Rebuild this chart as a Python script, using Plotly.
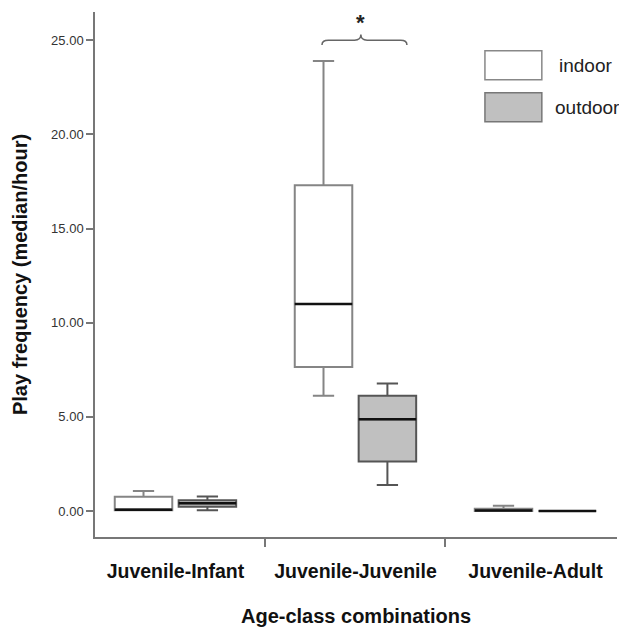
import plotly.graph_objects as go

categories = ["Juvenile-Infant", "Juvenile-Juvenile", "Juvenile-Adult"]

indoor_min = [0.05, 6.12, 0.0]
indoor_q1 = [0.05, 7.65, 0.0]
indoor_median = [0.07, 11.0, 0.03]
indoor_q3 = [0.76, 17.3, 0.12]
indoor_max = [1.07, 23.9, 0.28]

outdoor_min = [0.04, 1.39, 0.0]
outdoor_q1 = [0.23, 2.63, 0.0]
outdoor_median = [0.41, 4.88, 0.0]
outdoor_q3 = [0.57, 6.12, 0.0]
outdoor_max = [0.78, 6.77, 0.0]

y_ticks = [0, 5, 10, 15, 20, 25]
y_tick_labels = ["0.00", "5.00", "10.00", "15.00", "20.00", "25.00"]

FONT = "Liberation Sans, Arial, sans-serif"
BOXGAP = 0.29
GROUPGAP = 0.1
xpos = list(range(len(categories)))

fig = go.Figure()
fig.add_trace(go.Box(
    name="indoor", x=xpos, q1=indoor_q1, median=indoor_median, q3=indoor_q3,
    lowerfence=indoor_min, upperfence=indoor_max, offsetgroup="a",
    fillcolor="white", line=dict(color="#858585", width=2), whiskerwidth=0.37,
    boxpoints=False, showlegend=False, hoverinfo="skip"))
fig.add_trace(go.Box(
    name="outdoor", x=xpos, q1=outdoor_q1, median=outdoor_median, q3=outdoor_q3,
    lowerfence=outdoor_min, upperfence=outdoor_max, offsetgroup="b",
    fillcolor="#c0c0c0", line=dict(color="#555555", width=2), whiskerwidth=0.37,
    boxpoints=False, showlegend=False, hoverinfo="skip"))

# black median lines, derived from data and box geometry
slot = (1 - BOXGAP) / 2
bw = slot * (1 - GROUPGAP)
for sign, med in ((-1, indoor_median), (1, outdoor_median)):
    xs, ys = [], []
    for i, m in zip(xpos, med):
        c = i + sign * slot / 2
        xs += [c - bw / 2, c + bw / 2, None]
        ys += [m, m, None]
    fig.add_trace(go.Scatter(x=xs, y=ys, mode="lines", line=dict(color="#111111", width=2.5),
                             showlegend=False, hoverinfo="skip"))

# significance brace over Juvenile-Juvenile
x0, x1, xc = 0.814, 1.286, 1.03
yl, yf, yt = 24.75, 25.0, 25.3
d = 0.035
path = (f"M {x0},{yl} Q {x0},{yf} {x0+d},{yf} L {xc-d},{yf} Q {xc},{yf} {xc},{yt} "
        f"Q {xc},{yf} {xc+d},{yf} L {x1-d},{yf} Q {x1},{yf} {x1},{yl}")
fig.add_shape(type="path", path=path, xref="x", yref="y", line=dict(color="#666666", width=1.5))
fig.add_annotation(x=xc, y=25.95, xref="x", yref="y", text="<b>*</b>", showarrow=False,
                   yanchor="middle", font=dict(family=FONT, size=22, color="#222"))

# legend
fig.add_shape(type="rect", xref="paper", yref="paper", x0=0.747, x1=0.856, y0=0.871, y1=0.926,
              fillcolor="white", line=dict(color="#888888", width=1.5))
fig.add_shape(type="rect", xref="paper", yref="paper", x0=0.747, x1=0.856, y0=0.791, y1=0.846,
              fillcolor="#c0c0c0", line=dict(color="#777777", width=1.5))
fig.add_annotation(x=0.885, y=0.899, xref="paper", yref="paper", text="indoor", showarrow=False,
                   xanchor="left", yanchor="middle", font=dict(family=FONT, size=19, color="#222"))
fig.add_annotation(x=0.877, y=0.818, xref="paper", yref="paper", text="outdoor", showarrow=False,
                   xanchor="left", yanchor="middle", font=dict(family=FONT, size=19, color="#222"))

fig.update_layout(
    width=619, height=627, margin=dict(l=95, r=2, t=12, b=88),
    paper_bgcolor="white", plot_bgcolor="white",
    boxmode="group", boxgap=BOXGAP, boxgroupgap=GROUPGAP,
    showlegend=False,
    xaxis=dict(range=[-0.447, 2.453], tickvals=xpos, ticktext=categories, ticks="",
               showline=True, linecolor="#777777", linewidth=1.5, showgrid=False, zeroline=False,
               tickfont=dict(family=FONT, size=19.5, color="#111", weight="bold"),
               ticklabelstandoff=16,
               minor=dict(tickvals=[0.5, 1.5], ticks="outside", ticklen=8, tickcolor="#777777", tickwidth=1.5),
               title=dict(text="<b>Age-class combinations</b>", font=dict(family=FONT, size=20, color="#111"),
                          standoff=29)),
    yaxis=dict(range=[-1.376, 26.5], tickvals=y_ticks, ticktext=y_tick_labels, ticks="outside",
               ticklen=7, tickcolor="#777777", tickwidth=1.5,
               showline=True, linecolor="#777777", linewidth=1.5, showgrid=False, zeroline=False,
               tickfont=dict(family=FONT, size=13, color="#333"),
               title=dict(text="<b>Play frequency (median/hour)</b>", font=dict(family=FONT, size=20, color="#111"),
                          standoff=18)),
)

fig.write_html("out.html")
